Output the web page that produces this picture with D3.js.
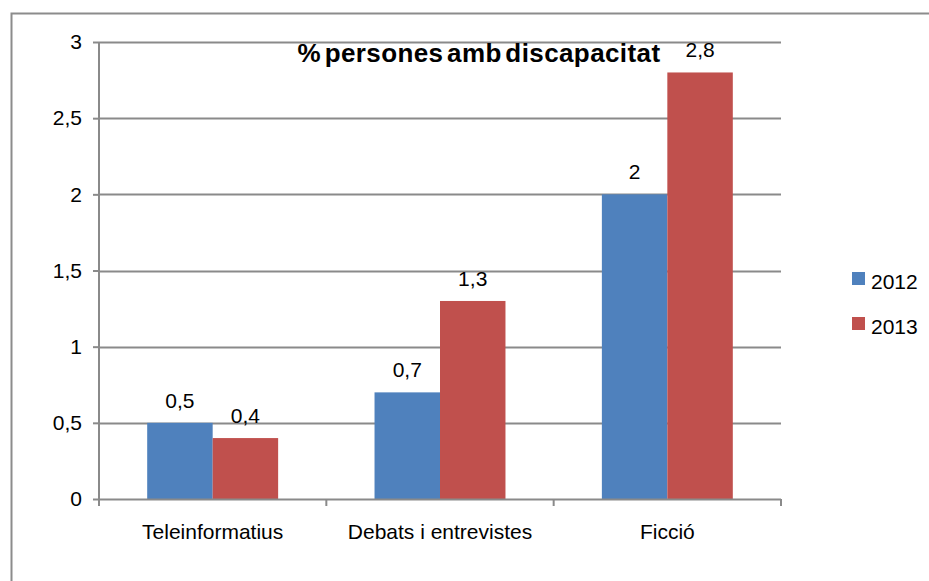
<!DOCTYPE html>
<html>
<head>
<meta charset="utf-8">
<script src="https://cdn.jsdelivr.net/npm/d3@7/dist/d3.min.js"></script>
<style>
  html, body { margin: 0; padding: 0; background: #fff; }
  text { font-family: "Liberation Sans", Arial, sans-serif; fill: #000; }
</style>
</head>
<body>
<svg id="chart" width="929" height="581"></svg>
<script>
// Share of people with a disability per programme type
const categories = ["Teleinformatius", "Debats i entrevistes", "Ficció"];
const seriesNames = ["2012", "2013"];
const values2012 = [0.5, 0.7, 2];
const values2013 = [0.4, 1.3, 2.8];
const yTicks = [0, 0.5, 1, 1.5, 2, 2.5, 3];
const colors = ["#4F81BD", "#C0504D"];

const svg = d3.select("#chart");
const fmt = v => String(v).replace(".", ",");
const fontSize = "21px";

// Outer chart frame
svg.append("rect")
  .attr("x", 11.5).attr("y", 13.5)
  .attr("width", 940).attr("height", 600)
  .attr("fill", "none").attr("stroke", "#8c8c8c").attr("stroke-width", 2);

const plot = { left: 99, right: 781, top: 42, bottom: 499 };

const y = d3.scaleLinear().domain([0, 3]).range([plot.bottom, plot.top]);
const x0 = d3.scaleBand().domain(categories)
  .range([plot.left, plot.right])
  .paddingInner(0.424).paddingOuter(0.212);
const x1 = d3.scaleBand().domain(seriesNames).range([0, x0.bandwidth()]);

const grid = "#8a8a8a";

// Horizontal gridlines
svg.append("g").selectAll("line")
  .data(yTicks.filter(t => t > 0))
  .join("line")
  .attr("x1", plot.left).attr("x2", plot.right)
  .attr("y1", d => Math.round(y(d)) + 0.5).attr("y2", d => Math.round(y(d)) + 0.5)
  .attr("stroke", grid).attr("stroke-width", 2);

// Y axis
const yAxis = svg.append("g")
  .attr("transform", `translate(${plot.left},0)`)
  .call(d3.axisLeft(y).tickValues(yTicks).tickFormat(fmt).tickSize(6).tickPadding(11));
yAxis.select(".domain").attr("stroke", grid).attr("stroke-width", 2)
  .attr("d", `M0,${plot.top}V${plot.bottom + 6}`);
yAxis.selectAll(".tick line").attr("stroke", grid).attr("stroke-width", 2);
yAxis.selectAll(".tick text").style("font-size", fontSize)
  .style("font-family", "Liberation Sans, Arial, sans-serif").attr("fill", "#000");

// Bars
const rows = categories.map((c, i) => ({ cat: c, vals: [values2012[i], values2013[i]] }));
const groups = svg.append("g").selectAll("g")
  .data(rows).join("g")
  .attr("transform", d => `translate(${x0(d.cat)},0)`);

groups.selectAll("rect")
  .data(d => d.vals.map((v, k) => ({ v, k })))
  .join("rect")
  .attr("x", d => x1(seriesNames[d.k]))
  .attr("width", x1.bandwidth())
  .attr("y", d => y(d.v))
  .attr("height", d => y(0) - y(d.v))
  .attr("fill", d => colors[d.k]);

// X axis
const xAxisG = svg.append("g").attr("transform", `translate(0,${plot.bottom})`);
xAxisG.append("line")
  .attr("x1", plot.left).attr("x2", plot.right)
  .attr("y1", 0.5).attr("y2", 0.5)
  .attr("stroke", grid).attr("stroke-width", 2);
const step = (plot.right - plot.left) / categories.length;
xAxisG.selectAll("line.tk")
  .data(d3.range(categories.length + 1))
  .join("line").attr("class", "tk")
  .attr("x1", i => plot.left + i * step).attr("x2", i => plot.left + i * step)
  .attr("y1", 0).attr("y2", 7)
  .attr("stroke", grid).attr("stroke-width", 2);
xAxisG.selectAll("text")
  .data(categories).join("text")
  .attr("x", d => x0(d) + x0.bandwidth() / 2)
  .attr("y", 40)
  .attr("text-anchor", "middle")
  .style("font-size", fontSize)
  .text(d => d);

// Value labels
groups.selectAll("text")
  .data(d => d.vals.map((v, k) => ({ v, k })))
  .join("text")
  .attr("x", d => x1(seriesNames[d.k]) + x1.bandwidth() / 2)
  .attr("y", d => y(d.v) - 15)
  .attr("text-anchor", "middle")
  .style("font-size", fontSize)
  .text(d => fmt(d.v));

// Title
svg.append("text")
  .attr("x", 479).attr("y", 62)
  .attr("text-anchor", "middle")
  .style("font-size", "26px").style("font-weight", "bold")
  .style("letter-spacing", "0.4px").style("word-spacing", "-4px")
  .text("% persones amb discapacitat");

// Legend
const legend = svg.append("g").selectAll("g")
  .data(seriesNames).join("g")
  .attr("transform", (d, i) => `translate(852,${272 + i * 45})`);
legend.append("rect").attr("width", 13).attr("height", 13)
  .attr("fill", (d, i) => colors[i]);
legend.append("text").attr("x", 19).attr("y", 17)
  .style("font-size", fontSize).text(d => d);
</script>
</body>
</html>
